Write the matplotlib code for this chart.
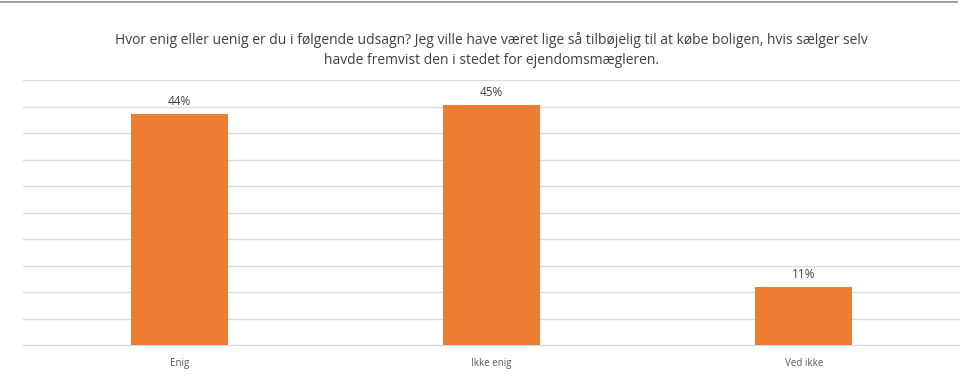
import matplotlib.pyplot as plt
from matplotlib.lines import Line2D

categories = ['Enig', 'Ikke enig', 'Ved ikke']
values = [43.6, 45.3, 10.9]
labels = ['44%', '45%', '11%']

title = ('Hvor enig eller uenig er du i følgende udsagn? Jeg ville have været lige så tilbøjelig til at købe boligen, hvis sælger selv\n'
         'havde fremvist den i stedet for ejendomsmægleren.')

plt.rcParams['font.family'] = ['Open Sans', 'DejaVu Sans']

fig = plt.figure(figsize=(9.6, 3.87), dpi=100)
ax = fig.add_axes([23 / 960, 42 / 387, 937 / 960, 265 / 387])

x = range(len(categories))
ax.bar(x, values, width=0.31, color='#ED7D31', zorder=3)
for xi, v, lab in zip(x, values, labels):
    ax.text(xi, v + 1.2, lab, ha='center', va='bottom', fontsize=8.5, color='#404040')

ax.set_xlim(-0.5, 2.5)
ax.set_ylim(0, 50)
ax.set_yticks(range(0, 51, 5))
ax.yaxis.grid(True, color='#dcdcdc', linewidth=1)
ax.set_axisbelow(True)
ax.tick_params(axis='y', left=False, labelleft=False)
ax.tick_params(axis='x', bottom=False, labelsize=7, labelcolor='#595959', pad=6)
ax.set_xticks(list(x))
ax.set_xticklabels(categories)
for s in ['top', 'right', 'left']:
    ax.spines[s].set_visible(False)
ax.spines['bottom'].set_color('#d9d9d9')

fig.text(491 / 960, 1 - 50 / 387, title, ha='center', va='center', fontsize=10,
         color='#404040', linespacing=1.45)

# thin frame line at the very top
fig.add_artist(Line2D([0, 957 / 960], [1 - 2 / 387, 1 - 2 / 387], color='#909090', linewidth=1.2))

fig.savefig('out.png', dpi=100)
